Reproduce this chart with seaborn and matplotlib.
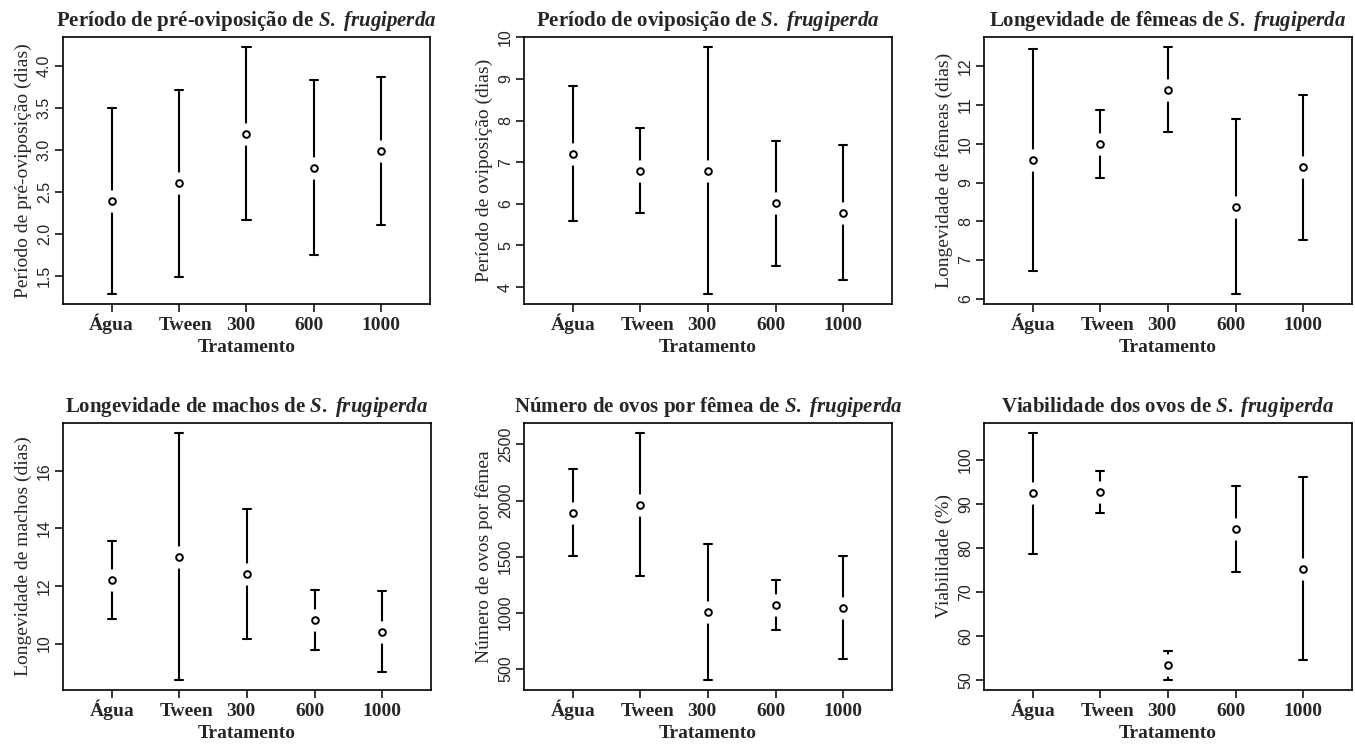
import numpy as np
import pandas as pd
import matplotlib
matplotlib.use("Agg")
import matplotlib.pyplot as plt
import matplotlib.transforms as mtransforms
import seaborn as sns

# ---------------- data ----------------
tratamentos = ["Água", "Tween", "300", "600", "1000"]

titulos = [
    "Período de pré-oviposição de ",
    "Período de oviposição de ",
    "Longevidade de fêmeas de ",
    "Longevidade de machos de ",
    "Número de ovos por fêmea de ",
    "Viabilidade dos ovos de ",
]
especie = r"$\mathit{S.}$ $\mathit{frugiperda}$"

rotulos_y = [
    "Período de pré-oviposição (dias)",
    "Período de oviposição (dias)",
    "Longevidade de fêmeas (dias)",
    "Longevidade de machos (dias)",
    "Número de ovos por fêmea",
    "Viabilidade (%)",
]
rotulo_x = "Tratamento"

pre_media = [2.39, 2.60, 3.195, 2.79, 2.99]
pre_dp = [1.11, 1.11, 1.035, 1.04, 0.88]

ovi_media = [7.20, 6.80, 6.80, 6.01, 5.79]
ovi_dp = [1.62, 1.03, 2.97, 1.51, 1.62]

femeas_media = [9.58, 9.99, 11.40, 8.38, 9.39]
femeas_dp = [2.86, 0.885, 1.10, 2.26, 1.88]

machos_media = [12.21, 13.02, 12.415, 10.82, 10.41]
machos_dp = [1.35, 4.29, 2.265, 1.04, 1.41]

ovos_media = [1890, 1963, 1007, 1071, 1045]
ovos_dp = [388, 640, 608, 222, 457]

viab_media = [92.35, 92.65, 53.35, 84.3, 75.3]
viab_dp = [13.75, 4.75, 3.35, 9.8, 20.8]

ticks_y = [
    [1.5, 2.0, 2.5, 3.0, 3.5, 4.0],
    [4, 5, 6, 7, 8, 9, 10],
    [6, 7, 8, 9, 10, 11, 12],
    [10, 12, 14, 16],
    [500, 1000, 1500, 2000, 2500],
    [50, 60, 70, 80, 90, 100],
]
formatos_y = ["{:.1f}", "{:d}", "{:d}", "{:d}", "{:d}", "{:d}"]

paineis = [
    (pre_media, pre_dp),
    (ovi_media, ovi_dp),
    (femeas_media, femeas_dp),
    (machos_media, machos_dp),
    (ovos_media, ovos_dp),
    (viab_media, viab_dp),
]

# ---------------- style ----------------
sns.set_style("ticks")
plt.rcParams["font.family"] = ["Liberation Serif", "DejaVu Sans"]
plt.rcParams["mathtext.fontset"] = "custom"
plt.rcParams["mathtext.it"] = "Liberation Serif:italic:bold"
plt.rcParams["mathtext.rm"] = "Liberation Serif:bold"
plt.rcParams["axes.edgecolor"] = "black"
plt.rcParams["axes.linewidth"] = 1.2

W, H = 1355, 748
fig = plt.figure(figsize=(W / 100, H / 100), dpi=100)

# axes boxes in pixels: (left, top, right, bottom)
caixas = [
    (63, 37, 430, 304),
    (524, 37, 892, 304),
    (984, 37, 1352, 304),
    (63, 423, 431, 690),
    (524, 423, 892, 690),
    (984, 423, 1352, 690),
]
desloc_x = [0, 7, -6, -5, 0]  # px shifts of x tick labels

for i, (media, dp) in enumerate(paineis):
    l, t, r, b = caixas[i]
    ax = fig.add_axes([l / W, 1 - b / H, (r - l) / W, (b - t) / H])
    media = np.asarray(media, float)
    dp = np.asarray(dp, float)
    df = pd.DataFrame({
        "Tratamento": tratamentos * 2,
        "valor": np.r_[media - dp, media + dp],
    })
    # error bars + white mask (gap around the point, as in R plotCI)
    sns.pointplot(data=df, x="Tratamento", y="valor", order=tratamentos,
                  estimator="mean", errorbar=lambda v: (v.min(), v.max()),
                  capsize=0.12, color="black", linestyle="none", marker="o",
                  markersize=16, markerfacecolor="white", markeredgecolor="white",
                  markeredgewidth=0, err_kws={"linewidth": 1.5, "zorder": 2},
                  zorder=3, ax=ax)
    # open circle for the mean
    sns.pointplot(data=df, x="Tratamento", y="valor", order=tratamentos,
                  estimator="mean", errorbar=None, color="black",
                  linestyle="none", marker="o", markersize=4.8,
                  markerfacecolor="white", markeredgecolor="black",
                  markeredgewidth=1.4, zorder=4, ax=ax)

    lo = (media - dp).min()
    hi = (media + dp).max()
    pad = 0.04 * (hi - lo)
    ax.set_ylim(lo - pad, hi + pad)
    ax.set_xlim(-0.72, 4.72)

    for s in ax.spines.values():
        s.set_visible(True)
        s.set_color("black")
        s.set_linewidth(1.2)

    ax.tick_params(direction="out", length=6, width=1.1, color="black")
    ax.tick_params(axis="y", pad=2)
    ax.tick_params(axis="x", pad=12.5)

    ax.set_xticks(range(len(tratamentos)))
    ax.set_xticklabels(tratamentos, fontsize=14, fontweight="bold",
                       family="Liberation Serif")
    for lab, dx in zip(ax.get_xticklabels(), desloc_x):
        lab.set_va("baseline")
        lab.set_transform(lab.get_transform() +
                          mtransforms.ScaledTranslation(dx / 100, 0, fig.dpi_scale_trans))

    yt = ticks_y[i]
    ax.set_yticks(yt)
    ax.set_yticklabels([formatos_y[i].format(v) for v in yt], fontsize=11.5,
                       family="Liberation Sans")
    for lab in ax.get_yticklabels():
        lab.set_rotation(90)
        lab.set_va("center")
        lab.set_ha("right")

    ax.set_xlabel(rotulo_x, fontsize=14, fontweight="bold")
    ax.xaxis.set_label_coords(0.5, -35 / (b - t))
    ax.set_ylabel(rotulos_y[i], fontsize=14)
    ax.yaxis.set_label_coords(-31 / (r - l), 0.5)

    ax.set_title(titulos[i] + especie, fontsize=15, fontweight="bold", pad=8)
    ax.grid(False)

fig.savefig("out.png", dpi=100)
